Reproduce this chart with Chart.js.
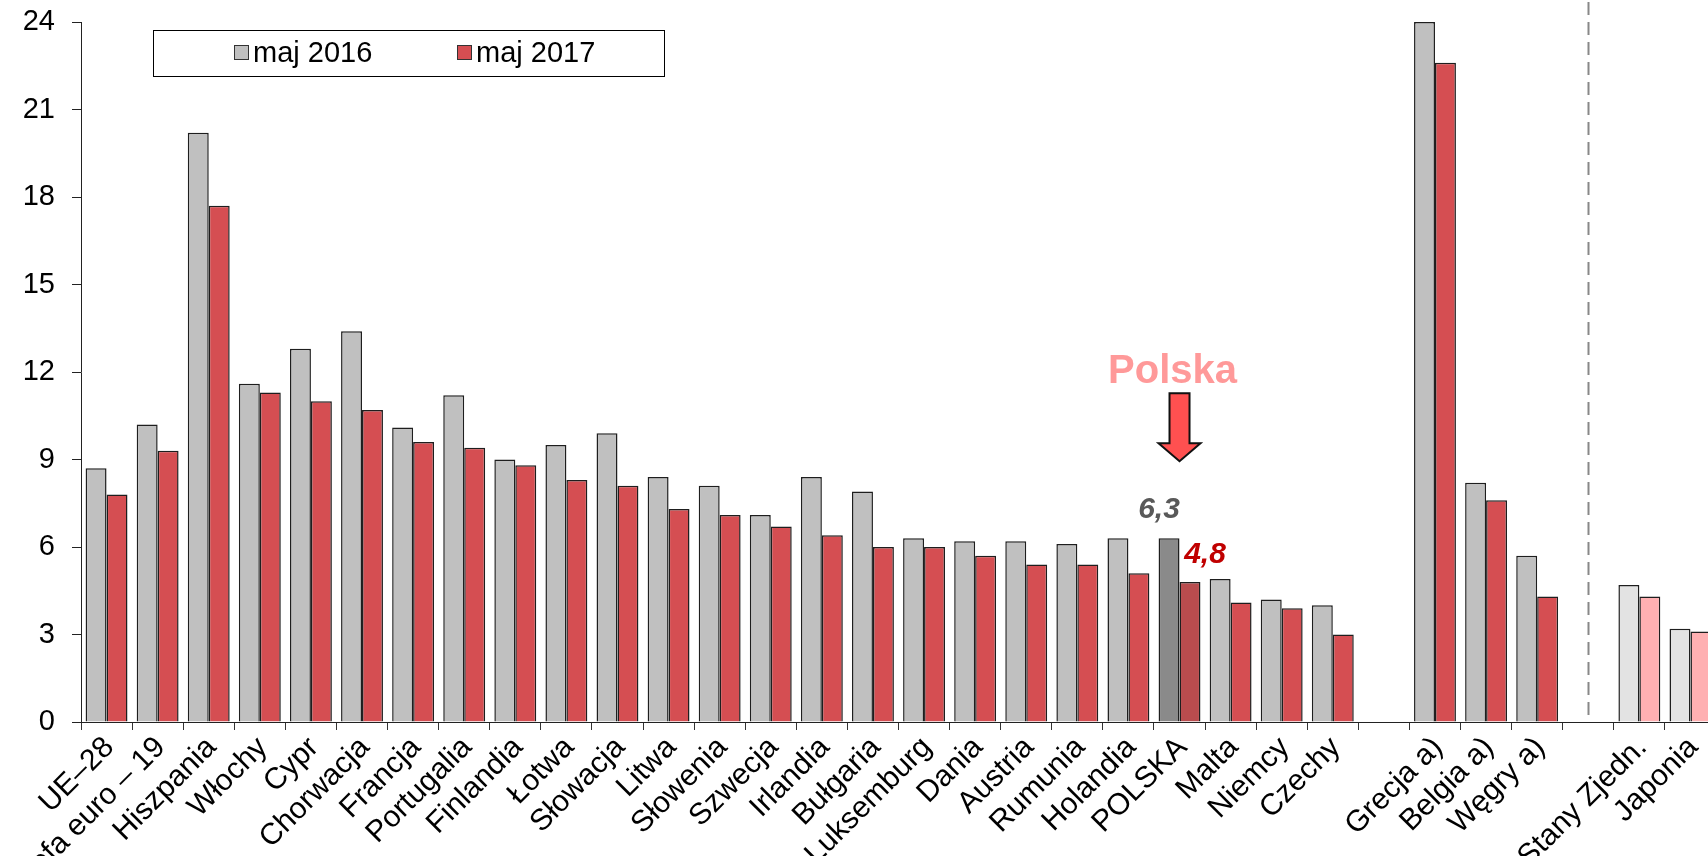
<!DOCTYPE html>
<html>
<head>
<meta charset="utf-8">
<script src="https://cdn.jsdelivr.net/npm/chart.js@4.4.1/dist/chart.umd.min.js"></script>
<style>
	html, body { margin: 0; padding: 0; background: #fff; overflow: hidden; }
	#wrap { width: 1716px; height: 856px; position: relative; }
</style>
</head>
<body>
<div id="wrap"><canvas id="chart"></canvas></div>
<script>
const categories = [
	'UE–28', 'Strefa euro – 19', 'Hiszpania', 'Włochy', 'Cypr', 'Chorwacja', 'Francja',
	'Portugalia', 'Finlandia', 'Łotwa', 'Słowacja', 'Litwa', 'Słowenia', 'Szwecja',
	'Irlandia', 'Bułgaria', 'Luksemburg', 'Dania', 'Austria', 'Rumunia', 'Holandia',
	'POLSKA', 'Malta', 'Niemcy', 'Czechy', '', 'Grecja a)', 'Belgia a)', 'Węgry a)', '',
	'Stany Zjedn.', 'Japonia'
];
const may2016 = [
	8.7, 10.2, 20.2, 11.6, 12.8, 13.4, 10.1, 11.2, 9.0, 9.5, 9.9, 8.4, 8.1, 7.1,
	8.4, 7.9, 6.3, 6.2, 6.2, 6.1, 6.3, 6.3, 4.9, 4.2, 4.0, null, 24.0, 8.2, 5.7, null,
	4.7, 3.2
];
const may2017 = [
	7.8, 9.3, 17.7, 11.3, 11.0, 10.7, 9.6, 9.4, 8.8, 8.3, 8.1, 7.3, 7.1, 6.7,
	6.4, 6.0, 6.0, 5.7, 5.4, 5.4, 5.1, 4.8, 4.1, 3.9, 3.0, null, 22.6, 7.6, 4.3, null,
	4.3, 3.1
];
const seriesLabels = ['maj 2016', 'maj 2017'];
const yMax = 24;
const yStep = 3;
const polandLabel = 'POLSKA';
const outsideEU = ['Stany Zjedn.', 'Japonia'];

const FONT = "'Liberation Sans', Arial, sans-serif";
const polandIdx = categories.indexOf(polandLabel);

const colorFor = (base, dark, pale) => categories.map((c) => {
	if (c === polandLabel) return dark;
	if (outsideEU.includes(c)) return pale;
	return base;
});

// separator between EU countries and the rest (the empty slot before 'Stany Zjedn.')
const separatorIdx = categories.indexOf(outsideEU[0]) - 1;

const annotations = {
	id: 'annotations',
	afterDatasetsDraw(chart) {
		const { ctx, chartArea, scales: { x, y } } = chart;
		ctx.save();

		// dashed separator
		const sx = Math.round(x.getPixelForValue(separatorIdx)) + 0.5;
		ctx.strokeStyle = '#888888';
		ctx.lineWidth = 2;
		ctx.setLineDash([13, 7]);
		ctx.beginPath();
		ctx.moveTo(sx, 2);
		ctx.lineTo(sx, chartArea.bottom);
		ctx.stroke();
		ctx.setLineDash([]);

		// Polska values
		const g = chart.getDatasetMeta(0).data[polandIdx];
		const r = chart.getDatasetMeta(1).data[polandIdx];
		ctx.font = "bold italic 30px " + FONT;
		ctx.textAlign = 'center';
		ctx.textBaseline = 'alphabetic';
		ctx.fillStyle = '#595959';
		ctx.fillText(String(may2016[polandIdx]).replace('.', ','), g.x - 10, g.y - 20);
		ctx.fillStyle = '#C00000';
		ctx.fillText(String(may2017[polandIdx]).replace('.', ','), r.x + 15, r.y - 19);

		// arrow + caption
		const cx = x.getPixelForValue(polandIdx);
		const tip = g.y - 77;
		ctx.beginPath();
		ctx.moveTo(cx - 10, tip - 68);
		ctx.lineTo(cx + 10, tip - 68);
		ctx.lineTo(cx + 10, tip - 18);
		ctx.lineTo(cx + 21, tip - 18);
		ctx.lineTo(cx, tip);
		ctx.lineTo(cx - 21, tip - 18);
		ctx.lineTo(cx - 10, tip - 18);
		ctx.closePath();
		ctx.fillStyle = '#FF5050';
		ctx.fill();
		ctx.lineWidth = 2;
		ctx.strokeStyle = '#111';
		ctx.stroke();

		ctx.font = "bold 40px " + FONT;
		ctx.fillStyle = '#FF9999';
		ctx.fillText('Polska', cx - 7, tip - 78);

		// legend box
		ctx.fillStyle = '#fff';
		ctx.fillRect(153.5, 30.5, 511, 46);
		ctx.strokeStyle = '#000';
		ctx.lineWidth = 1;
		ctx.strokeRect(153.5, 30.5, 511, 46);
		const items = [
			{ x: 234, color: '#C0C0C0' },
			{ x: 457, color: '#D54E52' }
		];
		ctx.font = "29px " + FONT;
		ctx.textAlign = 'left';
		ctx.textBaseline = 'middle';
		items.forEach((it, i) => {
			ctx.fillStyle = it.color;
			ctx.fillRect(it.x + 0.5, 45.5, 14, 14);
			ctx.strokeStyle = '#333';
			ctx.strokeRect(it.x + 0.5, 45.5, 14, 14);
			ctx.fillStyle = '#000';
			ctx.fillText(chart.data.datasets[i].label, it.x + 19, 54);
		});
		ctx.restore();
	}
};

new Chart(document.getElementById('chart'), {
	type: 'bar',
	data: {
		labels: categories,
		datasets: [
			{
				label: seriesLabels[0],
				data: may2016,
				backgroundColor: colorFor('#C0C0C0', '#8A8A8A', '#E3E3E3'),
				borderColor: '#1e1e1e',
				borderWidth: 1.5
			},
			{
				label: seriesLabels[1],
				data: may2017,
				backgroundColor: colorFor('#D54E52', '#B94C4E', '#FFB0B2'),
				borderColor: '#1e1e1e',
				borderWidth: 1.5
			}
		]
	},
	options: {
		responsive: true,
		maintainAspectRatio: false,
		animation: false,
		barPercentage: 1,
		categoryPercentage: 0.82,
		layout: { padding: { top: 22, right: 0, bottom: 0, left: 0 } },
		plugins: { legend: { display: false }, tooltip: { enabled: false } },
		scales: {
			x: {
				grid: { offset: true, drawOnChartArea: false, tickLength: 8, color: '#333' },
				border: { color: '#222', width: 1 },
				ticks: {
					autoSkip: false, minRotation: 45, maxRotation: 45, padding: 0, labelOffset: 3,
					color: '#000', font: { family: FONT, size: 30 }
				},
				afterFit: (s) => { s.height = 134; }
			},
			y: {
				min: 0,
				max: yMax,
				grid: { drawOnChartArea: false, tickLength: 9, color: '#222' },
				border: { color: '#222', width: 1 },
				ticks: {
					stepSize: yStep, padding: 17,
					color: '#000', font: { family: FONT, size: 29 }
				},
				afterFit: (s) => {
					s.width = 81;
					s.paddingTop = 18;
					s.paddingBottom = 18;
				}
			}
		}
	},
	plugins: [annotations]
});
</script>
</body>
</html>
